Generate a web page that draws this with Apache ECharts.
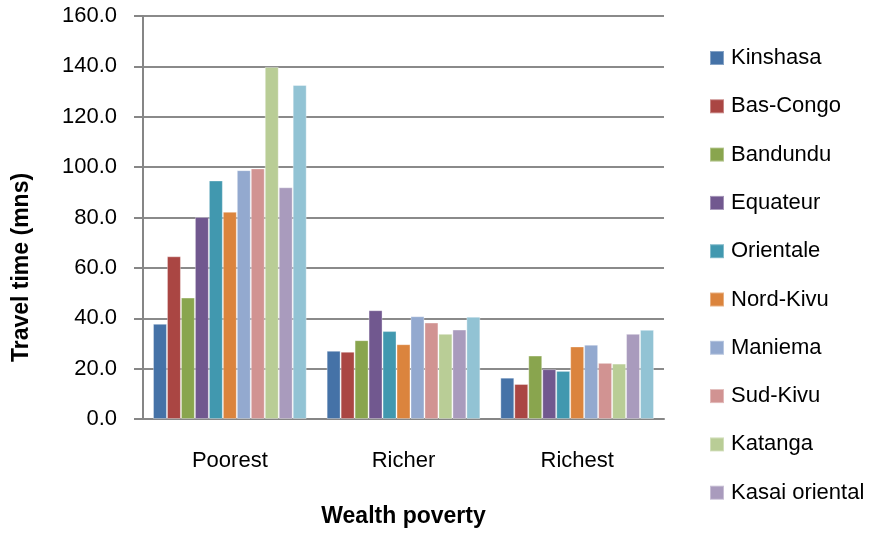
<!DOCTYPE html>
<html>
<head>
<meta charset="utf-8">
<script src="https://cdn.jsdelivr.net/npm/echarts@6/dist/echarts.min.js"></script>
<style>html,body{margin:0;padding:0;background:#fff}#c{width:879px;height:533px}</style>
</head>
<body>
<div id="c"></div>
<script>
const categories = ['Poorest', 'Richer', 'Richest'];
const seriesNames = ['Kinshasa', 'Bas-Congo', 'Bandundu', 'Equateur', 'Orientale', 'Nord-Kivu', 'Maniema', 'Sud-Kivu', 'Katanga', 'Kasai oriental', 'Kasai occidental'];
const kinshasa = [37.8, 27.1, 16.4];
const basCongo = [64.6, 26.7, 13.9];
const bandundu = [48.2, 31.3, 25.2];
const equateur = [80.2, 43.2, 19.8];
const orientale = [94.7, 34.9, 19.1];
const nordKivu = [82.3, 29.7, 28.8];
const maniema = [98.8, 40.8, 29.5];
const sudKivu = [99.5, 38.3, 22.3];
const katanga = [139.8, 33.8, 22.0];
const kasaiOriental = [92.0, 35.5, 33.8];
const kasaiOccidental = [132.6, 40.6, 35.4];
const legendNames = seriesNames.slice(0, 10);
const yTicks = [0, 20, 40, 60, 80, 100, 120, 140, 160];

const values = [kinshasa, basCongo, bandundu, equateur, orientale, nordKivu, maniema, sudKivu, katanga, kasaiOriental, kasaiOccidental];
const colors = ['#4572A7', '#AA4643', '#89A54E', '#71588F', '#4198AF', '#DB843D', '#93A9CF', '#D19392', '#B9CD96', '#A99BBD', '#92C3D4'];
const FONT = 'Liberation Sans';

const chart = echarts.init(document.getElementById('c'), null, {renderer: 'canvas'});
chart.setOption({
  animation: false,
  color: colors,
  textStyle: {fontFamily: FONT},
  grid: {left: 143, right: 215, top: 16, bottom: 114, containLabel: false},
  legend: {
    data: legendNames,
    orient: 'vertical',
    left: 709,
    top: 47,
    padding: 0,
    itemWidth: 14,
    itemHeight: 14,
    itemGap: 26.3,
    icon: 'rect',
    textStyle: {fontFamily: FONT, fontSize: 22, color: '#000', padding: [0, 0, 0, 2]}
  },
  xAxis: {
    type: 'category',
    data: categories,
    name: 'Wealth poverty',
    nameLocation: 'middle',
    nameGap: 86,
    nameTextStyle: {fontFamily: FONT, fontSize: 23, fontWeight: 'bold', color: '#000'},
    axisLine: {lineStyle: {color: '#868686', width: 2}},
    axisTick: {show: false},
    axisLabel: {fontFamily: FONT, fontSize: 22, color: '#000', margin: 31}
  },
  yAxis: {
    type: 'value',
    min: yTicks[0],
    max: yTicks[yTicks.length - 1],
    interval: 20,
    name: 'Travel time (mns)',
    nameLocation: 'middle',
    nameGap: 110,
    nameTextStyle: {fontFamily: FONT, fontSize: 23, fontWeight: 'bold', color: '#000', padding: [0, 100, 0, 0]},
    axisLine: {show: true, lineStyle: {color: '#868686', width: 2}},
    axisTick: {show: true, length: 9, lineStyle: {color: '#868686', width: 2}},
    axisLabel: {fontFamily: FONT, fontSize: 22, color: '#000', margin: 26, formatter: v => v.toFixed(1)},
    splitLine: {show: true, lineStyle: {color: '#8a8a8a', width: 2}}
  },
  series: seriesNames.map((n, i) => ({
    name: n,
    type: 'bar',
    data: values[i],
    barGap: '0%',
    barCategoryGap: '11.5%',
    itemStyle: {color: colors[i], borderColor: 'rgba(255,255,255,0.35)', borderWidth: 1}
  }))
});
</script>
</body>
</html>
